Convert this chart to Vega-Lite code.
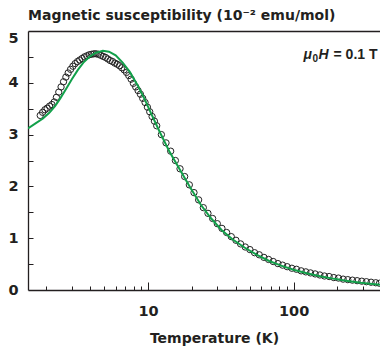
{
  "$schema": "https://vega.github.io/schema/vega-lite/v6.json",
  "width": 352,
  "height": 259,
  "autosize": "none",
  "padding": {"left": 28, "top": 31, "right": 0, "bottom": 56},
  "background": "white",
  "config": {
    "view": {"stroke": null},
    "font": "DejaVu Sans",
    "axis": {
      "domainColor": "#231f20",
      "domainWidth": 1.3,
      "tickColor": "#231f20",
      "tickWidth": 1,
      "labelColor": "#231f20",
      "titleColor": "#231f20",
      "labelFont": "DejaVu Sans",
      "titleFont": "DejaVu Sans",
      "labelFontSize": 14.5,
      "titleFontSize": 14,
      "labelFontWeight": "bold",
      "titleFontWeight": "bold",
      "grid": false
    }
  },
  "title": {
    "text": "Magnetic susceptibility (10⁻² emu/mol)",
    "anchor": "start",
    "frame": "group",
    "fontSize": 14,
    "font": "DejaVu Sans",
    "fontWeight": "bold",
    "color": "#231f20",
    "offset": 7
  },
  "datasets": {
    "obs": [
      {"T": 1.82, "chi": 3.37}, {"T": 1.89, "chi": 3.43}, {"T": 1.96, "chi": 3.48}, {"T": 2.03, "chi": 3.51},
      {"T": 2.11, "chi": 3.55}, {"T": 2.19, "chi": 3.58}, {"T": 2.27, "chi": 3.63}, {"T": 2.35, "chi": 3.72},
      {"T": 2.44, "chi": 3.82}, {"T": 2.53, "chi": 3.92}, {"T": 2.63, "chi": 4.02}, {"T": 2.73, "chi": 4.11},
      {"T": 2.83, "chi": 4.19}, {"T": 2.94, "chi": 4.26}, {"T": 3.05, "chi": 4.32}, {"T": 3.16, "chi": 4.37},
      {"T": 3.28, "chi": 4.41}, {"T": 3.40, "chi": 4.44}, {"T": 3.53, "chi": 4.47}, {"T": 3.66, "chi": 4.50},
      {"T": 3.80, "chi": 4.52}, {"T": 3.94, "chi": 4.54}, {"T": 4.09, "chi": 4.55}, {"T": 4.25, "chi": 4.56},
      {"T": 4.41, "chi": 4.56}, {"T": 4.57, "chi": 4.55}, {"T": 4.74, "chi": 4.53}, {"T": 4.92, "chi": 4.51},
      {"T": 5.11, "chi": 4.49}, {"T": 5.30, "chi": 4.46}, {"T": 5.50, "chi": 4.43}, {"T": 5.71, "chi": 4.41},
      {"T": 5.92, "chi": 4.38}, {"T": 6.14, "chi": 4.36}, {"T": 6.37, "chi": 4.33}, {"T": 6.61, "chi": 4.29},
      {"T": 6.86, "chi": 4.25}, {"T": 7.12, "chi": 4.20}, {"T": 7.38, "chi": 4.14}, {"T": 7.66, "chi": 4.07},
      {"T": 7.94, "chi": 3.99}, {"T": 8.24, "chi": 3.92}, {"T": 8.55, "chi": 3.85}, {"T": 8.87, "chi": 3.78},
      {"T": 9.20, "chi": 3.70}, {"T": 9.55, "chi": 3.62}, {"T": 9.91, "chi": 3.53}, {"T": 10.28, "chi": 3.44},
      {"T": 10.67, "chi": 3.35}, {"T": 11.07, "chi": 3.26}, {"T": 11.48, "chi": 3.17},
      {"T": 12.36, "chi": 3.00}, {"T": 13.30, "chi": 2.84},
      {"T": 14.32, "chi": 2.68}, {"T": 15.42, "chi": 2.50}, {"T": 16.60, "chi": 2.34}, {"T": 17.86, "chi": 2.19},
      {"T": 19.23, "chi": 2.03}, {"T": 20.70, "chi": 1.88}, {"T": 22.28, "chi": 1.74}, {"T": 23.99, "chi": 1.59},
      {"T": 25.82, "chi": 1.48}, {"T": 27.80, "chi": 1.38}, {"T": 29.92, "chi": 1.28}, {"T": 32.21, "chi": 1.19},
      {"T": 34.67, "chi": 1.11}, {"T": 37.33, "chi": 1.03}, {"T": 40.18, "chi": 0.96}, {"T": 43.25, "chi": 0.89},
      {"T": 46.56, "chi": 0.83}, {"T": 50.12, "chi": 0.78}, {"T": 53.95, "chi": 0.72}, {"T": 58.08, "chi": 0.68},
      {"T": 62.52, "chi": 0.63}, {"T": 67.30, "chi": 0.59}, {"T": 72.44, "chi": 0.55}, {"T": 77.98, "chi": 0.51},
      {"T": 83.95, "chi": 0.48}, {"T": 90.36, "chi": 0.45}, {"T": 97.27, "chi": 0.42}, {"T": 104.7, "chi": 0.40},
      {"T": 112.7, "chi": 0.37}, {"T": 121.3, "chi": 0.35}, {"T": 130.6, "chi": 0.33}, {"T": 140.6, "chi": 0.31},
      {"T": 151.4, "chi": 0.29}, {"T": 162.9, "chi": 0.27}, {"T": 175.4, "chi": 0.26}, {"T": 188.8, "chi": 0.24},
      {"T": 203.2, "chi": 0.23}, {"T": 218.8, "chi": 0.21}, {"T": 235.5, "chi": 0.20}, {"T": 253.5, "chi": 0.19},
      {"T": 272.9, "chi": 0.18}, {"T": 293.8, "chi": 0.17}, {"T": 316.2, "chi": 0.16}, {"T": 340.4, "chi": 0.15},
      {"T": 366.4, "chi": 0.14}, {"T": 389.0, "chi": 0.13}
    ],
    "fit": [
      {"T": 1.5, "chi": 3.12}, {"T": 1.7, "chi": 3.22}, {"T": 1.9, "chi": 3.31}, {"T": 2.1, "chi": 3.42},
      {"T": 2.3, "chi": 3.55}, {"T": 2.5, "chi": 3.70}, {"T": 2.75, "chi": 3.89}, {"T": 3.0, "chi": 4.07},
      {"T": 3.3, "chi": 4.25}, {"T": 3.6, "chi": 4.39}, {"T": 4.0, "chi": 4.51}, {"T": 4.4, "chi": 4.58},
      {"T": 4.9, "chi": 4.62}, {"T": 5.4, "chi": 4.60}, {"T": 6.0, "chi": 4.53}, {"T": 6.7, "chi": 4.39},
      {"T": 7.5, "chi": 4.21}, {"T": 8.5, "chi": 3.95}, {"T": 9.5, "chi": 3.68}, {"T": 10.5, "chi": 3.41},
      {"T": 12, "chi": 3.06}, {"T": 14, "chi": 2.68}, {"T": 16.5, "chi": 2.33}, {"T": 19.5, "chi": 1.98},
      {"T": 23, "chi": 1.65}, {"T": 27, "chi": 1.39}, {"T": 32, "chi": 1.16}, {"T": 38, "chi": 0.98},
      {"T": 46, "chi": 0.82}, {"T": 56, "chi": 0.68}, {"T": 68, "chi": 0.56}, {"T": 82, "chi": 0.47},
      {"T": 100, "chi": 0.39}, {"T": 125, "chi": 0.32}, {"T": 155, "chi": 0.26}, {"T": 190, "chi": 0.215},
      {"T": 235, "chi": 0.175}, {"T": 290, "chi": 0.14}, {"T": 350, "chi": 0.115}, {"T": 392, "chi": 0.10}
    ],
    "ann": [{"T": 117, "chi": 4.54}]
  },
  "layer": [
    {
      "data": {"name": "obs"},
      "mark": {"type": "point", "shape": "circle", "filled": false, "size": 40, "stroke": "#222222", "strokeWidth": 1, "opacity": 1},
      "encoding": {
        "x": {
          "field": "T", "type": "quantitative",
          "scale": {"type": "log", "domain": [1.5, 392], "nice": false},
          "axis": {
            "orient": "bottom",
            "title": "Temperature (K)",
            "values": [10, 100],
            "ticks": false,
            "labelPadding": 14,
            "titleX": 186,
            "titleY": 48,
            "titleAlign": "center",
            "titleBaseline": "middle",
            "labelFlush": false,
            "labelOverlap": false
          }
        },
        "y": {
          "field": "chi", "type": "quantitative",
          "scale": {"domain": [0, 5], "nice": false},
          "axis": {
            "title": null,
            "values": [0, 1, 2, 3, 4, 5],
            "ticks": false,
            "labelPadding": 10,
            "labelBaseline": {"condition": {"test": "datum.value == 5", "value": "top"}, "value": "middle"},
            "labelOverlap": false
          }
        }
      }
    },
    {
      "data": {"name": "fit"},
      "mark": {"type": "line", "color": "#12a04a", "strokeWidth": 2, "clip": true},
      "encoding": {
        "x": {"field": "T", "type": "quantitative", "scale": {"type": "log", "domain": [1.5, 392], "nice": false},
              "axis": {"orient": "top", "offset": -259, "values": [2, 3, 4, 5, 6, 7, 8, 9, 20, 30, 40, 50, 60, 70, 80, 90, 200, 300], "labels": false, "domain": false, "tickSize": 4, "title": null}},
        "y": {"field": "chi", "type": "quantitative", "scale": {"domain": [0, 5], "nice": false},
              "axis": {"orient": "right", "offset": -352, "values": [0.5, 1, 1.5, 2, 2.5, 3, 3.5, 4, 4.5], "labels": false, "domain": false, "tickSize": 5, "title": null}}
      }
    },
    {
      "data": {"name": "ann"},
      "mark": {"type": "text", "text": "μ", "font": "Liberation Sans", "fontStyle": "italic", "fontWeight": "bold", "fontSize": 14, "align": "left", "baseline": "middle", "color": "#231f20", "dx": 0},
      "encoding": {
        "x": {"field": "T", "type": "quantitative", "scale": {"type": "log", "domain": [1.5, 392], "nice": false},
              "axis": {"orient": "top", "offset": -259, "values": [10, 100], "labels": false, "domain": false, "tickSize": 8, "title": null}},
        "y": {"field": "chi", "type": "quantitative", "scale": {"domain": [0, 5], "nice": false}, "axis": null}
      }
    },
    {
      "data": {"name": "ann"},
      "mark": {"type": "text", "text": "0", "font": "Liberation Sans", "fontWeight": "bold", "fontSize": 10, "align": "left", "baseline": "middle", "color": "#231f20", "dx": 9, "dy": 4},
      "encoding": {
        "x": {"field": "T", "type": "quantitative", "scale": {"type": "log", "domain": [1.5, 392], "nice": false},
              "axis": {"orient": "top", "labels": false, "ticks": false, "title": null, "domainWidth": 1.5}},
        "y": {"field": "chi", "type": "quantitative", "scale": {"domain": [0, 5], "nice": false}, "axis": null}
      }
    },
    {
      "data": {"name": "ann"},
      "mark": {"type": "text", "text": "H", "font": "Liberation Sans", "fontStyle": "italic", "fontWeight": "bold", "fontSize": 14, "align": "left", "baseline": "middle", "color": "#231f20", "dx": 15},
      "encoding": {
        "x": {"field": "T", "type": "quantitative", "scale": {"type": "log", "domain": [1.5, 392], "nice": false}, "axis": null},
        "y": {"field": "chi", "type": "quantitative", "scale": {"domain": [0, 5], "nice": false}, "axis": null}
      }
    },
    {
      "data": {"name": "ann"},
      "mark": {"type": "text", "text": "= 0.1 T", "font": "Liberation Sans", "fontWeight": "bold", "fontSize": 14, "align": "left", "baseline": "middle", "color": "#231f20", "dx": 30},
      "encoding": {
        "x": {"field": "T", "type": "quantitative", "scale": {"type": "log", "domain": [1.5, 392], "nice": false}, "axis": null},
        "y": {"field": "chi", "type": "quantitative", "scale": {"domain": [0, 5], "nice": false}, "axis": null}
      }
    }
  ],
  "resolve": {"axis": {"x": "independent", "y": "independent"}}
}
